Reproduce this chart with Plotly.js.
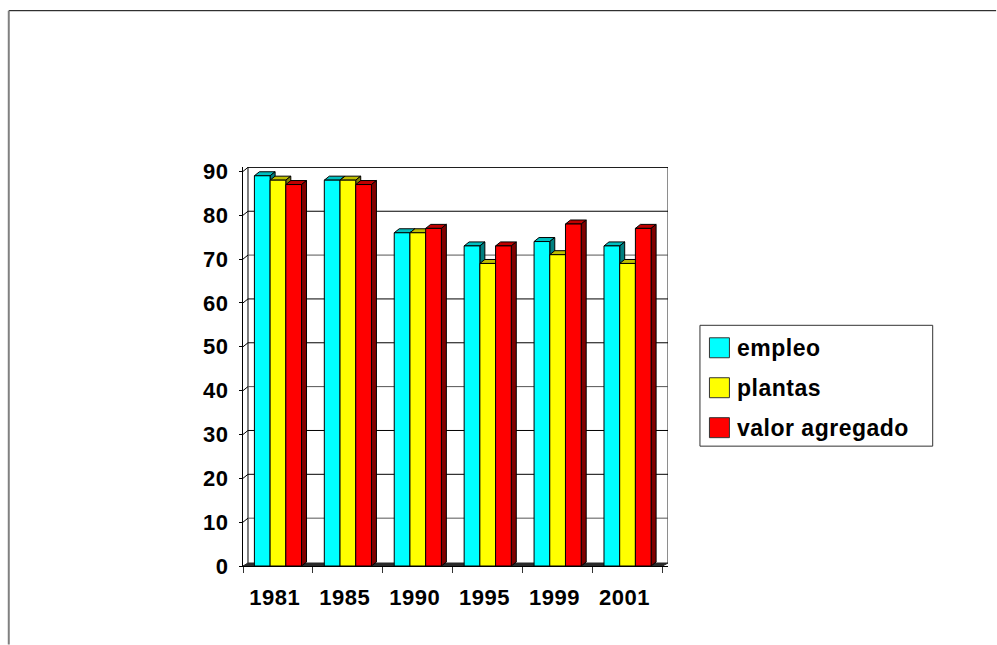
<!DOCTYPE html>
<html>
<head>
<meta charset="utf-8">
<script src="https://cdn.plot.ly/plotly-3.0.1.min.js"></script>
<style>
html,body{margin:0;padding:0;background:#fff}
/* Slightly open tracking for the bold labels */
.annotation-text,.xtick text,.ytick text{letter-spacing:.5px}
</style>
</head>
<body>
<div id="chart"></div>
<script>
// Series read as percentages per census year
const years = ['1981', '1985', '1990', '1995', '1999', '2001'];
const empleo = [89, 88, 76, 73, 74, 73];
const plantas = [88, 88, 76, 69, 71, 69];
const valorAgregado = [87, 87, 77, 73, 78, 77];

const seriesNames = ['empleo', 'plantas', 'valor agregado'];
const frontColors = ['#00FFFF', '#FFFF00', '#FF0000'];
const topColors = ['#00BFBF', '#BFBF00', '#BF0000'];
const sideColors = ['#008080', '#808000', '#800000'];
const yTicks = [0, 10, 20, 30, 40, 50, 60, 70, 80, 90];

const W = 997, H = 645;
const plot = {l: 243, r: 668.5, t: 167, b: 566.5};
const xMax = (plot.r - plot.l) / 70;
const yMax = 91;
const depthX = 5 / 70;          // receding offset of the pseudo-3D box, in category units
const depthY = 4 / 4.39;        // same offset in value units
const floorY = 3 / 4.39;        // the floor band is drawn a little shallower
const barGap = 0.326;
const barW = (1 - barGap) / 3;
const fontFam = '"Liberation Sans", Arial, sans-serif';
const ink = '#000000';

const px = x => (x - plot.l) / (plot.r - plot.l);
const py = y => (plot.b - y) / (plot.b - plot.t);

const shapes = [];
const poly = (pts, fill, lw, col) => shapes.push({
  type: 'path', layer: 'below', xref: 'x', yref: 'y',
  path: 'M' + pts.map(p => p.join(',')).join('L') + 'Z',
  fillcolor: fill, line: {color: col || ink, width: lw === undefined ? 1 : lw}
});
const seg = (x0, y0, x1, y1, col, w) => shapes.push({
  type: 'line', layer: 'below', xref: 'x', yref: 'y', x0, y0, x1, y1,
  line: {color: col || ink, width: w || 1}
});

// Back wall, grid lines and floor
seg(depthX, floorY, depthX, yMax, ink, 1);
seg(xMax - 0.002, floorY, xMax - 0.002, yMax, '#808080', 1.5);
yTicks.slice(1).forEach((v, i) => {
  seg(0, v, depthX, v + depthY, ink, 1);
  seg(depthX, v + depthY, xMax, v + depthY, i % 3 === 0 ? '#555555' : ink, 1);
});
poly([[0, 0], [depthX, floorY], [xMax, floorY], [6, 0]], '#2a2a2a', 1, '#2a2a2a');

// Top and side faces of each bar, painted left to right so later bars overlap earlier ones
[empleo, plantas, valorAgregado].forEach((vals, s) => {
  vals.forEach((v, i) => {
    const x0 = i + barGap / 2 + s * barW, x1 = x0 + barW;
    poly([[x0, v], [x0 + depthX, v + depthY], [x1 + depthX, v + depthY], [x1, v]], topColors[s]);
    poly([[x1, 0], [x1 + depthX, depthY], [x1 + depthX, v + depthY], [x1, v]], sideColors[s]);
  });
});

// Outer frame of the figure
const paperLine = (x0, y0, x1, y1, col, w) => shapes.push({
  type: 'line', xref: 'paper', yref: 'paper',
  x0: px(x0), y0: py(y0), x1: px(x1), y1: py(y1), line: {color: col, width: w}
});
paperLine(8.5, 10.5, W, 10.5, ink, 1);
paperLine(8.5, 10.5, 8.5, H, '#808080', 2);

// Key box with swatches and labels
const box = {l: 700.5, r: 933.5, t: 325.5, b: 446.5};
shapes.push({
  type: 'rect', xref: 'paper', yref: 'paper',
  x0: px(box.l), x1: px(box.r), y0: py(box.b), y1: py(box.t),
  fillcolor: '#ffffff', line: {color: '#333333', width: 1}
});
const keyRows = [348, 388, 428];
const annotations = [];
seriesNames.forEach((name, s) => {
  shapes.push({
    type: 'rect', xref: 'paper', yref: 'paper',
    x0: px(710), x1: px(730), y0: py(keyRows[s] + 10), y1: py(keyRows[s] - 10),
    fillcolor: frontColors[s], line: {color: '#333333', width: 1}
  });
  annotations.push({
    xref: 'paper', yref: 'paper', x: px(737), y: py(keyRows[s]),
    xanchor: 'left', yanchor: 'middle', xshift: -1, showarrow: false, text: '<b>' + name + '</b>',
    font: {family: fontFam, size: 23, color: ink}
  });
});

const centers = years.map((_, i) => i + 0.5);
const traces = [empleo, plantas, valorAgregado].map((vals, s) => ({
  type: 'bar', name: seriesNames[s], x: centers, y: vals,
  marker: {color: frontColors[s], line: {color: ink, width: 1}},
  hoverinfo: 'x+y'
}));

const layout = {
  width: W, height: H, autosize: false,
  margin: {l: plot.l, r: W - plot.r, t: plot.t, b: H - plot.b, pad: 0},
  paper_bgcolor: '#ffffff', plot_bgcolor: 'rgba(0,0,0,0)',
  showlegend: false, barmode: 'group', bargap: barGap, bargroupgap: 0,
  font: {family: fontFam, color: ink},
  xaxis: {
    type: 'linear', range: [0, xMax], showgrid: false, zeroline: false,
    showline: true, linecolor: ink, linewidth: 1,
    tickmode: 'array', tickvals: centers.map(c => c - 0.045), ticktext: years,
    ticks: '', ticklabelstandoff: 12,
    tickfont: {family: fontFam, size: 22, color: ink, weight: 'bold'},
    minor: {tickmode: 'array', tickvals: [0, 1, 2, 3, 4, 5, 6], ticks: 'outside', ticklen: 6, tickcolor: '#333333', tickwidth: 1, showgrid: false}
  },
  yaxis: {
    range: [0, yMax], showgrid: false, zeroline: false,
    showline: true, linecolor: ink, linewidth: 1,
    tickmode: 'array', tickvals: yTicks,
    ticks: 'outside', ticklen: 3, tickcolor: ink, tickwidth: 1,
    ticklabelstandoff: 6,
    tickfont: {family: fontFam, size: 22, color: ink, weight: 'bold'}
  },
  shapes, annotations
};

Plotly.newPlot('chart', traces, layout, {displayModeBar: false, staticPlot: true});
</script>
</body>
</html>
